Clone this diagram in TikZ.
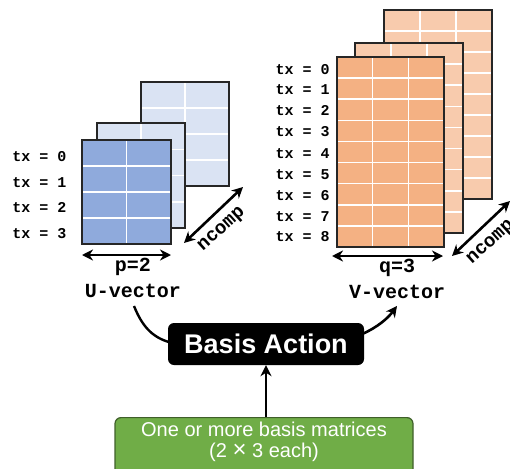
\documentclass[tikz,border=0pt]{standalone}
\usepackage{fontspec}
\setmainfont{Liberation Sans}
\setmonofont{Liberation Mono}
\usetikzlibrary{arrows.meta,calc}

\definecolor{ufront}{HTML}{8FAADC}
\definecolor{uback}{HTML}{DAE3F3}
\definecolor{vfront}{HTML}{F4B183}
\definecolor{vback}{HTML}{F8CBAD}
\definecolor{matedge}{HTML}{262626}
\definecolor{boxgreen}{HTML}{70AD47}
\definecolor{boxgreenedge}{HTML}{3F5F2A}

\tikzset{
  matbox/.style={fill, inner sep=0pt, outer sep=0pt},
  matedgeline/.style={draw=matedge, line width=1.7pt},
  gridline/.style={white, line width=1.5pt},
  txlabel/.style={font=\ttfamily\bfseries\fontsize{15}{16}\selectfont, inner sep=0pt},
  dimlabel/.style={font=\ttfamily\bfseries\fontsize{20}{22}\selectfont, inner sep=0pt},
  nlabel/.style={font=\ttfamily\bfseries\fontsize{19}{20}\selectfont, inner sep=0pt, rotate=42},
  tip/.tip={Stealth[length=11pt,width=11pt,inset=3.5pt]},
  dimarrow/.style={line width=2.6pt, tip-tip},
  flow/.style={line width=2.6pt, -tip},
  curve/.style={line width=2.4pt},
}

% filled matrix with white grid lines and a dark outline
\newcommand\gridmatrix[8]{%
  \node[matbox, fill=#8, minimum width={#4-#2}, minimum height={#5-#3},
        anchor=north west] (#1) at (#2,#3) {};
  \pgfmathtruncatemacro\gmcols{#6-1}%
  \pgfmathtruncatemacro\gmrows{#7-1}%
  \foreach \i in {1,...,\gmcols}
    \draw[gridline] ($(#1.north west)!\i/#6!(#1.north east)$) --
                    ($(#1.south west)!\i/#6!(#1.south east)$);
  \foreach \j in {1,...,\gmrows}
    \draw[gridline] ($(#1.north west)!\j/#7!(#1.south west)$) --
                    ($(#1.north east)!\j/#7!(#1.south east)$);
  \draw[matedgeline] (#1.north west) rectangle (#1.south east);
}

\begin{document}
\begin{tikzpicture}[x=1pt,y=-1pt]
\useasboundingbox (0,0) rectangle (510,468);
\clip (0,0) rectangle (510,468);

% U-vector stack
\gridmatrix{u3}{141}{82}{229}{186}{2}{4}{uback}
\gridmatrix{u2}{97}{123}{185}{228}{2}{4}{uback}
\gridmatrix{u1}{82}{140}{171}{244}{2}{4}{ufront}

\foreach \k/\yy in {0/157,1/183,2/208,3/234}
  \node[txlabel] (utx\k) at (39.5,\yy) {tx = \k};

\coordinate (upl) at (82,255);
\coordinate (upr) at (171,255);
\draw[dimarrow] (upl) -- (upr);
\node[dimlabel] (up) at (133,267) {p=2};
\node[dimlabel] (uv) at (133,291) {U-vector};

\coordinate (unl) at (184,243);
\coordinate (unh) at (243,187);
\draw[dimarrow] (unl) -- (unh);
\node[nlabel] (unc) at (222,230) {ncomp};

% V-vector stack
\gridmatrix{v3}{384}{10}{492}{199}{3}{9}{vback}
\gridmatrix{v2}{355}{43}{463}{233}{3}{9}{vback}
\gridmatrix{v1}{337}{57}{444}{247}{3}{9}{vfront}

\foreach \k/\yy in {0/70,1/90,2/111,3/132,4/154,5/175,6/196,7/217,8/237}
  \node[txlabel] (vtx\k) at (302.5,\yy) {tx = \k};

\coordinate (vql) at (332,256);
\coordinate (vqr) at (443,256);
\draw[dimarrow] (vql) -- (vqr);
\node[dimlabel] (vq) at (397,268) {q=3};
\node[dimlabel] (vv) at (397,292) {V-vector};

\coordinate (vnl) at (452,256);
\coordinate (vnh) at (510,201);
\draw[dimarrow] (vnl) -- (vnh);
\node[nlabel] (vnc) at (491,243) {ncomp};

% action box and input box
\node[fill=black, rounded corners=6pt, minimum width=196, minimum height=42,
      inner sep=0pt, text=white, font=\bfseries\fontsize{27}{30}\selectfont]
  (ba) at (266,344) {Basis Action};

\node[fill=boxgreen, draw=boxgreenedge, line width=1.2pt, rounded corners=6pt,
      minimum width=298, minimum height=64, inner sep=0pt, anchor=north]
  (gb) at (264,417) {};
\node[text=white, align=center, inner sep=0pt,
      font=\fontsize{20}{21}\selectfont] (gt) at (264,442)
  {One or more basis matrices\\(2 {\fontsize{24}{20}\selectfont×} 3 each)};

\draw[flow] (gb.north -| ba.south) -- (ba.south);

\draw[curve] ($(uv.south)+(1,8)$) .. controls (142,326) and (152,337) .. ($(ba.west)+(1,-2)$);
\draw[flow] ($(ba.east)+(-2,-10)$) .. controls (378,327) and (388,318) .. ($(vv.south)+(0,7)$);
\end{tikzpicture}
\end{document}
